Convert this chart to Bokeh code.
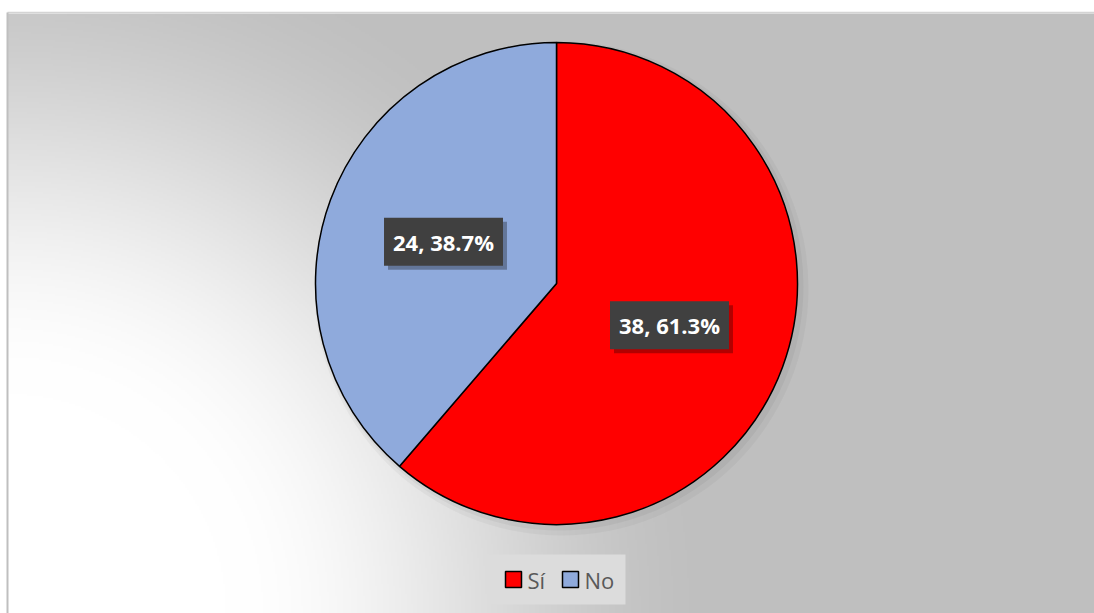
import numpy as np
from bokeh.plotting import figure
from bokeh.models import Range1d, ColumnDataSource
from bokeh.core.properties import value
from bokeh.embed import file_html
from bokeh.resources import INLINE

# ---- data ----
categories = ["Sí", "No"]
counts = [38, 24]
colors = ["#FF0000", "#8FAADC"]

# ---- layout (screen px; data y = 613 - screen y) ----
W, H = 1094, 613
CX, CY, R = 556, H - 283, 241

p = figure(width=W, height=H, x_range=Range1d(0, W), y_range=Range1d(0, H),
           output_backend="svg", toolbar_location=None, min_border=0)
p.axis.visible = False
p.grid.visible = False
p.outline_line_color = None
p.background_fill_color = "white"
p.border_fill_color = "white"

# background gradient (style only)
X0, TOP = 7, 601
step = 2
nx, ny = (W - X0) // step + 1, TOP // step
jj, ii = np.meshgrid(np.arange(nx), np.arange(ny))
sx = X0 + (jj + 0.5) * step
sy_up = (ii + 0.5) * step
r = np.hypot(sx - 6, sy_up)
t = np.clip((r - 220) / 500, 0, 1)
t = t * t * (3 - 2 * t)
g = (255 - 64 * t).astype(np.uint32)
img = (np.uint32(255) << 24) | (g << 16) | (g << 8) | g
p.image_rgba(image=[img.astype(np.uint32)], x=X0, y=0, dw=nx * step, dh=ny * step)
p.segment(x0=X0, y0=TOP, x1=W, y1=TOP, line_color="#d4d4d4", line_width=1.5)
p.segment(x0=X0, y0=0, x1=X0, y1=TOP, line_color="#bfbfbf", line_width=2)

# pie shadow
p.circle(x=CX + 5, y=CY - 5, radius=R + 6, fill_color="black", fill_alpha=0.035, line_color=None)
p.circle(x=CX + 3, y=CY - 3, radius=R + 3, fill_color="black", fill_alpha=0.045, line_color=None)

total = sum(counts)
fracs = [c / total for c in counts]
cum = np.cumsum([0] + fracs)
starts = [np.pi / 2 - cum[i + 1] * 2 * np.pi for i in range(len(counts))]
ends = [np.pi / 2 - cum[i] * 2 * np.pi for i in range(len(counts))]
mids = [(s + e) / 2 for s, e in zip(starts, ends)]

src = ColumnDataSource(dict(cat=categories, count=counts, color=colors,
                            start=starts, end=ends))
p.wedge(x=CX, y=CY, radius=R, start_angle="start", end_angle="end", source=src,
        fill_color="color", line_color="black", line_width=1.5)

labels = [f"{c}, {f*100:.1f}%" for c, f in zip(counts, fracs)]
lx = [CX + 0.5 * R * np.cos(a) for a in mids]
ly = [CY + 0.5 * R * np.sin(a) for a in mids]
lsrc = ColumnDataSource(dict(x=lx, y=ly, text=labels))
common = dict(x="x", y="y", text="text", source=lsrc, text_align="center",
              text_baseline="middle", text_font=value("Open Sans"),
              text_font_style="bold", text_font_size="22px", padding=9)
p.text(text_alpha=0, x_offset=4, y_offset=4,
       background_fill_color="black", background_fill_alpha=0.3, **common)
p.text(text_color="white", background_fill_color="#404040", background_fill_alpha=1, **common)

# ---- legend (drawn by hand) ----
LEG_X0, LEG_X1, LEG_Y0, LEG_Y1 = 487, 625, 9, 59
item_x = [505, 562]
SQ = 16
p.quad(left=LEG_X0, right=LEG_X1, bottom=LEG_Y0, top=LEG_Y1,
       fill_color="#dcdcdc", line_color=None)
ymid = (LEG_Y0 + LEG_Y1) / 2
legsrc = ColumnDataSource(dict(x=[x + SQ / 2 for x in item_x], tx=[x + SQ + 6 for x in item_x],
                               y=[ymid] * len(categories), cat=categories, color=colors))
p.rect(x="x", y="y", width=SQ, height=SQ, source=legsrc, fill_color="color",
       line_color="black", line_width=1.5)
p.text(x="tx", y="y", text="cat", source=legsrc, text_align="left", text_baseline="middle",
       text_font=value("Open Sans"), text_font_size="22px", text_color="#595959")

open("out.html", "w").write(file_html(p, INLINE))
